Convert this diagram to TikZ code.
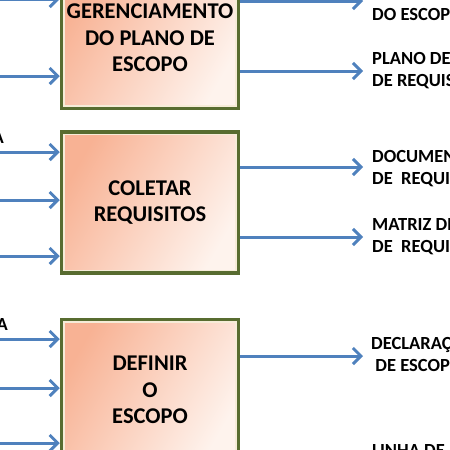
\documentclass[tikz,border=0pt]{standalone}
\usepackage{fontspec}
\setmainfont{Carlito}
\usepackage{tikz}
\usetikzlibrary{positioning,arrows.meta}

\definecolor{flowblue}{RGB}{79,129,189}
\definecolor{boxgreen}{RGB}{88,108,48}
\definecolor{boxdark}{RGB}{248,178,148}
\definecolor{boxlight}{RGB}{254,243,237}
\definecolor{boxcream}{RGB}{246,236,216}

\begin{document}
\begin{tikzpicture}[x=1pt, y=-1pt, node distance=20pt,
   box/.style={draw=boxgreen, line width=3.5pt, rectangle, top color=boxdark, bottom color=boxlight, shading angle=60, minimum width=177pt, minimum height=141pt, inner sep=0pt, align=center, font=\bfseries\fontsize{22.5}{26.5}\selectfont},
   outtext/.style={inner sep=0pt, align=left, font=\bfseries\fontsize{18.5}{22}\selectfont},
   flow/.style={-{Straight Barb[length=8pt, width=16pt]}, line width=3pt, flowblue}
]
\useasboundingbox (0,0) rectangle (450,450);
\clip (0,0) rectangle (450,450);

% Nodes
\node [box] (gerenc) at (150,38) {GERENCIAMENTO\\DO PLANO DE\\ESCOPO};
\node [box, below=20pt of gerenc] (coletar) {COLETAR\\REQUISITOS};
\node [box, below=43pt of coletar] (definir) {DEFINIR\\O\\ESCOPO};
\foreach \b in {gerenc,coletar,definir}
  \draw[boxcream, line width=1.2pt] ([shift={(4.2,4.2)}]\b.north west) rectangle ([shift={(-4.2,-4.2)}]\b.south east);

% Inputs
\coordinate (gin1) at (0,-1);
\coordinate (gin2) at (0,76);
\coordinate (cin1) at (0,152);
\coordinate (cin2) at (0,200);
\coordinate (cin3) at (0,256);
\coordinate (din1) at (0,339);
\coordinate (din2) at (0,388);
\coordinate (din3) at (0,443);
\node [outtext, anchor=base east] (ctext) at (4,143) {A};
\node [outtext, anchor=base east] (dtext) at (8,330) {A};

% Outputs
\coordinate (gout1) at (363,1);
\coordinate (gout2) at (363,71);
\coordinate (cout1) at (363,167);
\coordinate (cout2) at (363,237);
\coordinate (dout1) at (363,356);
\node [outtext, anchor=base west] (escopo) at (372,20) {DO ESCOPO};
\node [outtext, right=9pt of gout2] (planoreq) {PLANO DE\\DE REQUISITOS};
\node [outtext, right=9pt of cout1] (docreq) {DOCUMENTAÇÃO\\DE~~REQUISITOS};
\node [outtext, right=9pt of cout2] (matriz) {MATRIZ DE\\DE~~REQUISITOS};
\node [outtext, right=8pt of dout1, yshift=3pt] (declar) {DECLARAÇÃO\\~DE ESCOPO};
\node [outtext, anchor=base west] (linha) at (372,456) {LINHA DE};

% Arrows
\foreach \c in {gin1,gin2}
  \draw[flow] (\c) -- (\c -| gerenc.west);
\foreach \c in {cin1,cin2,cin3}
  \draw[flow] (\c) -- (\c -| coletar.west);
\foreach \c in {din1,din2,din3}
  \draw[flow] (\c) -- (\c -| definir.west);
\draw[flow] (gerenc.east |- gout1) -- (gout1);
\draw[flow] (gerenc.east |- gout2) -- (gout2);
\draw[flow] (coletar.east |- cout1) -- (cout1);
\draw[flow] (coletar.east |- cout2) -- (cout2);
\draw[flow] (definir.east |- dout1) -- (dout1);
\end{tikzpicture}
\end{document}
